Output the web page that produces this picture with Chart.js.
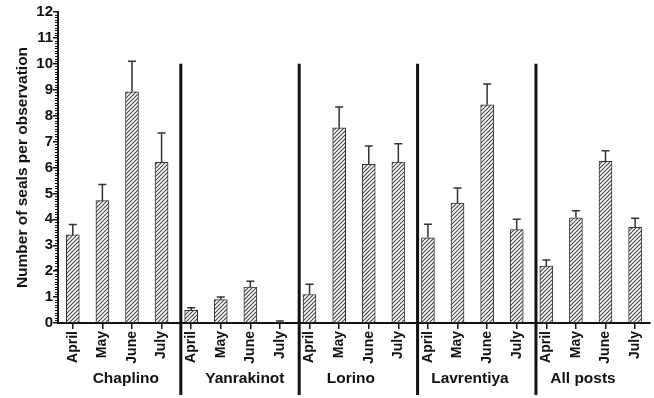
<!DOCTYPE html>
<html>
<head>
<meta charset="utf-8">
<script src="https://cdn.jsdelivr.net/npm/chart.js@4.4.1/dist/chart.umd.min.js"></script>
<style>
  html, body { margin: 0; padding: 0; background: #fff; }
  #wrap { width: 654px; height: 398px; }
</style>
</head>
<body>
<div id="wrap"><canvas id="chart"></canvas></div>
<script>
const months = ['April', 'May', 'June', 'July'];
const sites = ['Chaplino', 'Yanrakinot', 'Lorino', 'Lavrentiya', 'All posts'];

// mean seals per observation, by month
const chaplino   = [3.4, 4.72, 8.92, 6.2];
const yanrakinot = [0.49, 0.9, 1.39, 0.03];
const lorino     = [1.1, 7.53, 6.12, 6.21];
const lavrentiya = [3.29, 4.63, 8.42, 3.6];
const allPosts   = [2.2, 4.06, 6.24, 3.69];

// upper error (SE) above each mean
const errChaplino   = [0.4, 0.62, 1.18, 1.13];
const errYanrakinot = [0.1, 0.1, 0.22, 0.05];
const errLorino     = [0.4, 0.8, 0.71, 0.71];
const errLavrentiya = [0.52, 0.58, 0.8, 0.4];
const errAllPosts   = [0.23, 0.27, 0.41, 0.35];

const yTicks = [0, 1, 2, 3, 4, 5, 6, 7, 8, 9, 10, 11, 12];

const labels = [];
sites.forEach(() => months.forEach(m => labels.push(m)));
const means = [].concat(chaplino, yanrakinot, lorino, lavrentiya, allPosts);
const errs = [].concat(errChaplino, errYanrakinot, errLorino, errLavrentiya, errAllPosts);

const FONT = '"Liberation Sans", Arial, sans-serif';
const INK = '#111';

function hatch() {
  const c = document.createElement('canvas');
  c.width = 4; c.height = 4;
  const g = c.getContext('2d');
  g.fillStyle = '#fff';
  g.fillRect(0, 0, 4, 4);
  g.strokeStyle = '#444';
  g.lineWidth = 1.1;
  g.beginPath();
  g.moveTo(0, 4); g.lineTo(4, 0);
  g.moveTo(-1, 1); g.lineTo(1, -1);
  g.moveTo(3, 5); g.lineTo(5, 3);
  g.stroke();
  return g.createPattern(c, 'repeat');
}

const extras = {
  id: 'extras',
  afterDatasetsDraw(chart) {
    const ctx = chart.ctx;
    const y = chart.scales.y;
    const meta = chart.getDatasetMeta(0);
    ctx.save();
    ctx.strokeStyle = '#333';
    ctx.lineWidth = 1.5;
    meta.data.forEach((bar, i) => {
      const top = y.getPixelForValue(means[i] + errs[i]);
      const base = y.getPixelForValue(means[i]);
      ctx.beginPath();
      ctx.moveTo(bar.x, base);
      ctx.lineTo(bar.x, top);
      ctx.moveTo(bar.x - 4, top);
      ctx.lineTo(bar.x + 4, top);
      ctx.stroke();
    });
    ctx.restore();
  },
  afterDraw(chart, args, opts) {
    const ctx = chart.ctx;
    const x = chart.scales.x;
    const y = chart.scales.y;
    const step = x.getPixelForValue(1) - x.getPixelForValue(0);
    ctx.save();
    // minor ticks on y axis
    ctx.strokeStyle = INK;
    ctx.lineWidth = 1;
    for (let v = 0; v < 12; v++) {
      for (let k = 1; k < 10; k++) {
        const py = Math.round(y.getPixelForValue(v + k / 10)) + 0.5;
        ctx.beginPath();
        ctx.moveTo(y.right - 3, py);
        ctx.lineTo(y.right, py);
        ctx.stroke();
      }
    }
    // group separators
    ctx.lineWidth = 3;
    const sepTop = y.getPixelForValue(10);
    for (let g = 1; g < sites.length; g++) {
      const px = x.getPixelForValue(g * months.length - 1) + step * opts.sepFrac;
      ctx.beginPath();
      ctx.moveTo(px, sepTop);
      ctx.lineTo(px, chart.height - 3);
      ctx.stroke();
    }
    // group labels
    ctx.fillStyle = INK;
    ctx.font = 'bold 15.5px ' + FONT;
    ctx.textAlign = 'center';
    ctx.textBaseline = 'middle';
    sites.forEach((s, g) => {
      const px = x.getPixelForValue(g * months.length) + step * 1.5 + opts.nudge[g];
      ctx.fillText(s, px, opts.labelY);
    });
    ctx.restore();
  }
};

new Chart(document.getElementById('chart'), {
  type: 'bar',
  data: {
    labels,
    datasets: [{
      data: means,
      backgroundColor: hatch(),
      borderColor: '#333',
      borderWidth: 1,
      barThickness: 13,
    }],
  },
  options: {
    responsive: true,
    maintainAspectRatio: false,
    animation: false,
    layout: { padding: { top: 12, right: 4, left: 0, bottom: 0 } },
    plugins: {
      legend: { display: false },
      tooltip: { enabled: false },
      extras: { sepFrac: 0.65, nudge: [8.6, 9.3, -3, -2.4, -7.7], labelY: 379 },
    },
    scales: {
      x: {
        afterFit(scale) { scale.height = 75; },
        grid: { display: true, drawOnChartArea: false, offset: false, tickLength: 6, color: INK, lineWidth: 1.5 },
        border: { color: INK, width: 2 },
        ticks: {
          color: INK,
          font: { family: FONT, size: 14, weight: 'bold' },
          minRotation: 90,
          maxRotation: 90,
          autoSkip: false,
          padding: 2,
        },
      },
      y: {
        min: 0,
        max: 12,
        afterFit(scale) { scale.width = 58; },
        afterBuildTicks(scale) { scale.ticks = yTicks.map(v => ({ value: v })); },
        grid: { display: true, drawOnChartArea: false, tickLength: 5, color: INK, lineWidth: 1.5 },
        border: { color: INK, width: 2 },
        ticks: {
          color: INK,
          font: { family: FONT, size: 15, weight: 'bold' },
          padding: 0,
        },
        title: {
          display: true,
          text: 'Number of seals per observation',
          color: INK,
          font: { family: FONT, size: 15.5, weight: 'bold' },
          padding: { top: 13, bottom: 0 },
        },
      },
    },
  },
  plugins: [extras],
});
</script>
</body>
</html>
